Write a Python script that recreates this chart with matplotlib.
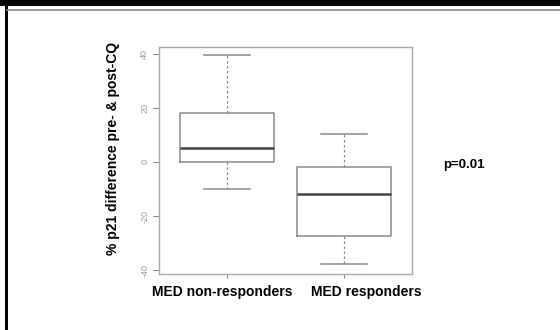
import matplotlib
matplotlib.use("Agg")
import matplotlib.pyplot as plt
from matplotlib.lines import Line2D
from matplotlib.patches import Rectangle

# ------------------ DATOS ------------------
grupos = ["MED non-responders", "MED responders"]
bigote_inf = [-10, -37.6]
q1 = [0, -27.3]
mediana = [5, -11.8]
q3 = [18, -1.8]
bigote_sup = [39.3, 10.3]
yticks = [-40, -20, 0, 20, 40]
p_valor = "p=0.01"

plt.rcParams["font.family"] = ["Liberation Sans", "DejaVu Sans"]

fig = plt.figure(figsize=(5.6, 3.3), dpi=100)
fig.patch.set_facecolor("white")

# marco del panel
fig.add_artist(Rectangle((0, 1 - 6 / 330), 1, 6 / 330, transform=fig.transFigure,
                         color="black", lw=0))
fig.add_artist(Rectangle((5 / 560, 0), 2.5 / 560, 1, transform=fig.transFigure,
                         color="black", lw=0))
fig.add_artist(Line2D([7 / 560, 1], [1 - 9.5 / 330, 1 - 9.5 / 330],
                      transform=fig.transFigure, color="#888888", lw=1.2))

ax = fig.add_axes([159 / 560, 1 - 274 / 330, 253 / 560, 227 / 330])

stats = []
for i in range(len(grupos)):
    stats.append({
        "whislo": bigote_inf[i], "q1": q1[i], "med": mediana[i],
        "q3": q3[i], "whishi": bigote_sup[i], "fliers": [], "label": grupos[i],
    })

gris = "#8a8a8a"
ax.bxp(stats, positions=[1, 2], widths=0.8, showfliers=False,
       boxprops=dict(color=gris, lw=1.1),
       whiskerprops=dict(color=gris, lw=0.9, linestyle=(0, (2, 2))),
       capprops=dict(color=gris, lw=1.1),
       medianprops=dict(color="#444444", lw=1.8),
       capwidths=0.4)

ax.set_xlim(0.42, 2.58)
ax.set_ylim(-41.3, 42.4)
ax.set_yticks(yticks)
ax.set_yticklabels([str(t) for t in yticks], rotation=90, va="center",
                   fontsize=6.5, color="#999999")
ax.set_xticks([1, 2])
ax.set_xticklabels(["", ""])
ax.tick_params(axis="x", length=3, color=gris)
ax.tick_params(axis="y", length=4, pad=3, color=gris)
for s in ax.spines.values():
    s.set_color("#aaaaaa")
    s.set_linewidth(1.0)

# etiquetas de grupo (desplazadas como en el original)
etiqueta_x = [222, 366]
for nombre, xp in zip(grupos, etiqueta_x):
    fig.text(xp / 560, 1 - 292 / 330, nombre, fontsize=10, fontweight="bold",
             ha="center", va="center")

fig.text(113 / 560, 1 - 148.5 / 330, "% p21 difference pre- & post-CQ",
         fontsize=10, fontweight="bold", rotation=90, ha="center", va="center")

fig.text(443 / 560, 1 - 165 / 330, p_valor, fontsize=9.5, fontweight="bold",
         va="center", ha="left")

fig.savefig("out.png", dpi=100)
